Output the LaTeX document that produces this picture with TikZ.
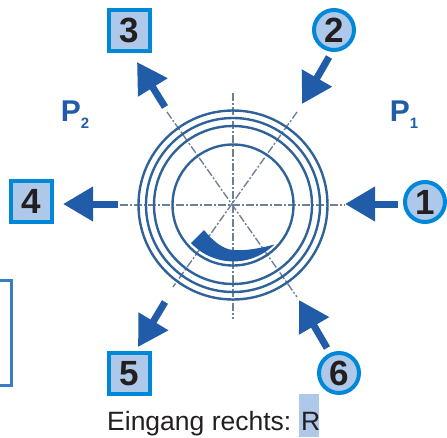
\documentclass[tikz,border=0pt]{standalone}
\usepackage{fontspec}
\setmainfont{Liberation Sans}
\usetikzlibrary{arrows.meta}
\definecolor{ringblue}{HTML}{2F6299}
\definecolor{arrowblue}{HTML}{215CA8}
\definecolor{frameblue}{HTML}{0088D8}
\definecolor{edgeblue}{HTML}{3A7DC4}
\definecolor{fillblue}{HTML}{ADC8E8}
\definecolor{axisgray}{HTML}{6F8196}
\definecolor{inkblack}{HTML}{231F20}
\tikzset{
	numbox/.style = {draw = frameblue, line width = 4pt, fill = fillblue, minimum size = 41pt, inner sep = 0pt, text = inkblack, font = \fontsize{35}{35}\selectfont\bfseries},
	numcircle/.style = {numbox, circle, minimum size = 40pt},
	bigarrow/.style = {arrowblue, line width = 7pt, -{Triangle[length = 30pt, width = 33pt]}},
	axisline/.style = {axisgray, line width = 1.4pt, dash pattern = on 8pt off 2pt on 2pt off 2pt},
	planelabel/.style = {text = arrowblue, font = \fontsize{30}{30}\selectfont\bfseries, inner sep = 0pt}
}
\begin{document}
\begin{tikzpicture} [x = 1pt, y = -1pt]
	\useasboundingbox (0,0) rectangle (447,437);
	\coordinate (centre) at (233,205);
	% axes
	\draw [axisline] (120,205) -- (345,205);
	\draw [axisline] (233,93) -- (233,319);
	\draw [axisline] (167,112) -- (297,297);
	\draw [axisline] (297,112) -- (173,287);
	% rings
	\foreach \r in {94.5,87,79,60.5}
		\draw [ringblue, line width = 2.4pt] (centre) circle (\r);
	\fill [arrowblue] (191,243) arc [start angle = 137, end angle = 45, radius = 58] .. controls (258,249) and (243,251) .. (233,250) .. controls (222,249) and (212,240) .. (204,230) -- cycle;
	% numbers
	\node [numcircle] (one) at (425,202) {1};
	\node [numcircle] (two) at (334,30) {2};
	\node [numbox] (three) at (129.5,30.5) {3};
	\node [numbox] (four) at (31.5,201.5) {4};
	\node [numbox] (five) at (129.5,373.5) {5};
	\node [numcircle] (six) at (339,373) {6};
	% arrows
	\coordinate (onetail) at (398,204);
	\coordinate (onetip) at (345,204);
	\coordinate (twotail) at (329,57);
	\coordinate (twotip) at (302,104);
	\coordinate (threetail) at (165,107);
	\coordinate (threetip) at (137,62);
	\coordinate (fourtail) at (118,204);
	\coordinate (fourtip) at (63,204);
	\coordinate (fivetail) at (165,302);
	\coordinate (fivetip) at (138,347);
	\coordinate (sixtail) at (327,348);
	\coordinate (sixtip) at (299,300);
	\foreach \n in {one,two,three,four,five,six}
		\draw [bigarrow] (\n tail) -- (\n tip);
	% labels
	\node [planelabel] (ptwo) at (75,115) {P\raisebox{-7pt}{\fontsize{15}{15}\selectfont 2}};
	\node [planelabel] (pone) at (404,115) {P\raisebox{-7pt}{\fontsize{15}{15}\selectfont 1}};
	\fill [fillblue] (299,394) rectangle (319,437);
	\node [text = inkblack, font = \fontsize{26.5}{26.5}\selectfont, inner sep = 0pt, anchor = base west] (entry) at (107,430) {Eingang rechts: R};
	% box at the left edge
	\draw [edgeblue, line width = 3pt] (-3,280) -- (11,280) -- (11,385) -- (-3,385);
\end{tikzpicture}
\end{document}
